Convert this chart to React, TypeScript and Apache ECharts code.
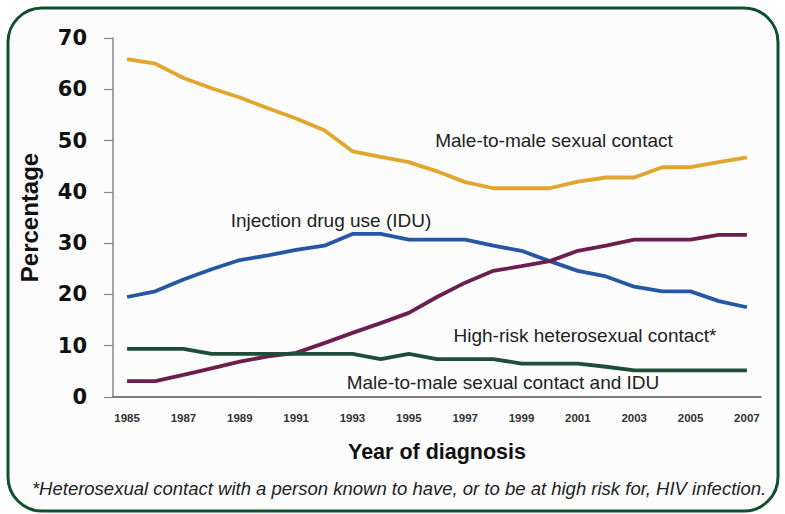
import React, { useEffect, useRef } from "react";
import * as echarts from "echarts";

const years = ["1985","1986","1987","1988","1989","1990","1991","1992","1993","1994","1995","1996","1997","1998","1999","2000","2001","2002","2003","2004","2005","2006","2007"];
const msm = [65.9, 65.0, 62.2, 60.2, 58.4, 56.3, 54.3, 52.0, 47.9, 46.8, 45.8, 44.0, 41.9, 40.7, 40.7, 40.7, 42.0, 42.8, 42.8, 44.8, 44.8, 45.8, 46.7];
const idu = [19.5, 20.6, 22.9, 24.9, 26.7, 27.6, 28.7, 29.5, 31.8, 31.8, 30.7, 30.7, 30.7, 29.5, 28.5, 26.5, 24.6, 23.5, 21.5, 20.6, 20.6, 18.7, 17.5];
const hetero = [3.1, 3.1, 4.3, 5.6, 6.9, 7.9, 8.6, 10.5, 12.5, 14.4, 16.4, 19.5, 22.3, 24.6, 25.5, 26.5, 28.5, 29.5, 30.7, 30.7, 30.7, 31.6, 31.6];
const msmIdu = [9.4, 9.4, 9.4, 8.4, 8.4, 8.4, 8.4, 8.4, 8.4, 7.4, 8.4, 7.4, 7.4, 7.4, 6.5, 6.5, 6.5, 5.9, 5.2, 5.2, 5.2, 5.2, 5.2];
const seriesNames = ["Male-to-male sexual contact", "Injection drug use (IDU)", "High-risk heterosexual contact*", "Male-to-male sexual contact and IDU"];
const footnote = "*Heterosexual contact with a person known to have, or to be at high risk for, HIV infection.";

export default function App() {
  const ref = useRef<HTMLDivElement>(null);
  useEffect(() => {
    if (!ref.current) return;
    const chart = echarts.init(ref.current, null, { renderer: "svg" });
    const font = "Arial, 'Liberation Sans', sans-serif";
    const mk = (name: string, data: number[], color: string) => ({
      name,
      type: "line",
      data,
      symbol: "none",
      lineStyle: { color, width: 3.8 },
      itemStyle: { color },
      z: 3,
    });
    const label = (text: string, x: number, y: number) => ({
      type: "text",
      x,
      y,
      style: { text, font: `19px ${font}`, fill: "#222", textAlign: "center", textVerticalAlign: "middle" },
    });
    chart.setOption({
      animation: false,
      backgroundColor: "transparent",
      grid: { left: 113, right: 24, top: 38, bottom: 117, containLabel: false },
      xAxis: {
        type: "category",
        data: years,
        boundaryGap: true,
        name: "Year of diagnosis",
        nameLocation: "middle",
        nameGap: 44,
        nameTextStyle: { fontFamily: font, fontWeight: "bold", fontSize: 21.5, color: "#111" },
        axisLine: { lineStyle: { color: "#555", width: 1.5 } },
        axisTick: { interval: 0, length: 8, lineStyle: { color: "#333", width: 1.5 } },
        axisLabel: { interval: 1, fontFamily: font, fontWeight: "bold", fontSize: 11.5, color: "#333", margin: 15 },
        splitLine: { show: false },
      },
      yAxis: {
        type: "value",
        min: 0,
        max: 70,
        interval: 10,
        name: "Percentage",
        nameLocation: "middle",
        nameGap: 72,
        nameTextStyle: { fontFamily: font, fontWeight: "bold", fontSize: 24, color: "#111" },
        axisLine: { show: true, lineStyle: { color: "#8a8296", width: 1.5 } },
        axisTick: { show: true, length: 9, lineStyle: { color: "#8a8296", width: 1.2 } },
        axisLabel: { fontFamily: "'DejaVu Sans', sans-serif", fontWeight: "bold", fontSize: 21, color: "#111", margin: 26 },
        splitLine: { show: false },
      },
      series: [
        mk(seriesNames[0], msm, "#e2a52e"),
        mk(seriesNames[1], idu, "#2557a3"),
        mk(seriesNames[2], hetero, "#6a1f4f"),
        mk(seriesNames[3], msmIdu, "#1f4d3a"),
      ],
      graphic: [
        {
          type: "rect",
          z: -10,
          shape: { x: 8, y: 8, width: 770, height: 503, r: 34 },
          style: { fill: "#fcfcfc", stroke: "#11502f", lineWidth: 3 },
        },
        label(seriesNames[0], 554, 140),
        label(seriesNames[1], 331, 220),
        label(seriesNames[2], 585, 335),
        label(seriesNames[3], 503, 382),
        { type: "text", x: 399, y: 488, style: { text: footnote, font: `italic 18.5px ${font}`, fill: "#222", textAlign: "center", textVerticalAlign: "middle" } },
      ],
    });
    return () => chart.dispose();
  }, []);
  return <div ref={ref} style={{ position: "absolute", left: 0, top: 0, width: 785, height: 514 }} />;
}
